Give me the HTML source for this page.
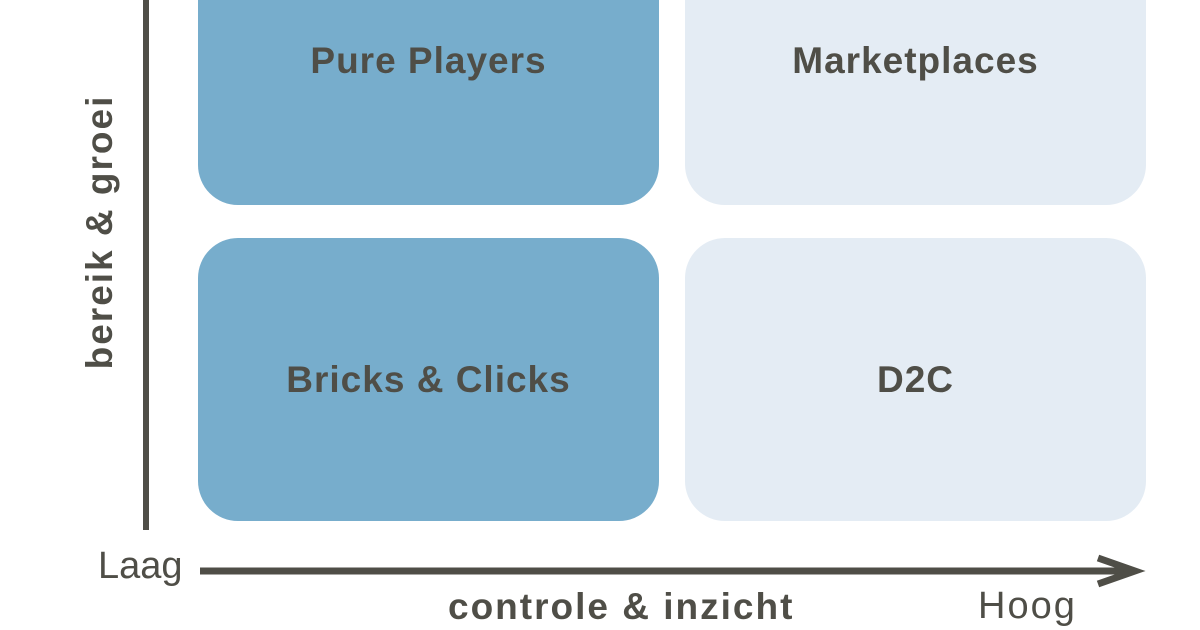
<!DOCTYPE html>
<html><head><style>
body{margin:0;width:1200px;height:630px;overflow:hidden;background:#fff;position:relative;font-family:"Liberation Sans",sans-serif;color:#4f4e47}
.b{position:absolute;border-radius:40px;display:flex;align-items:center;justify-content:center;font-weight:bold;font-size:37px;letter-spacing:1px}
.d{background:#77adcc}.l{background:#e4ecf4}
.t{position:absolute;white-space:nowrap}
</style></head><body>
<div class="b d" style="left:198px;top:-60px;width:461px;height:265px"><span style="position:relative;top:-12px">Pure Players</span></div>
<div class="b l" style="left:685px;top:-60px;width:461px;height:265px"><span style="position:relative;top:-12px">Marketplaces</span></div>
<div class="b d" style="left:198px;top:238px;width:461px;height:283px">Bricks &amp; Clicks</div>
<div class="b l" style="left:685px;top:238px;width:461px;height:283px">D2C</div>
<div style="position:absolute;left:143px;top:0;width:6px;height:530px;background:#4f4e47"></div>
<svg style="position:absolute;left:0;top:0" width="1200" height="630">
<line x1="200" y1="571" x2="1132" y2="571" stroke="#4f4e47" stroke-width="7"/>
<polyline points="1098,558 1135,571 1098,584" fill="none" stroke="#4f4e47" stroke-width="7"/>
</svg>
<div class="t" style="left:98px;top:545px;font-size:38px">Laag</div>
<div class="t" style="left:978px;top:585px;font-size:38px;letter-spacing:2px">Hoog</div>
<div class="t" style="left:448px;top:586px;font-size:37px;font-weight:bold;letter-spacing:2px">controle &amp; inzicht</div>
<div class="t" style="left:100px;top:232px;font-size:37px;font-weight:bold;letter-spacing:2px;transform:translate(-50%,-50%) rotate(-90deg)">bereik &amp; groei</div>
</body></html>
